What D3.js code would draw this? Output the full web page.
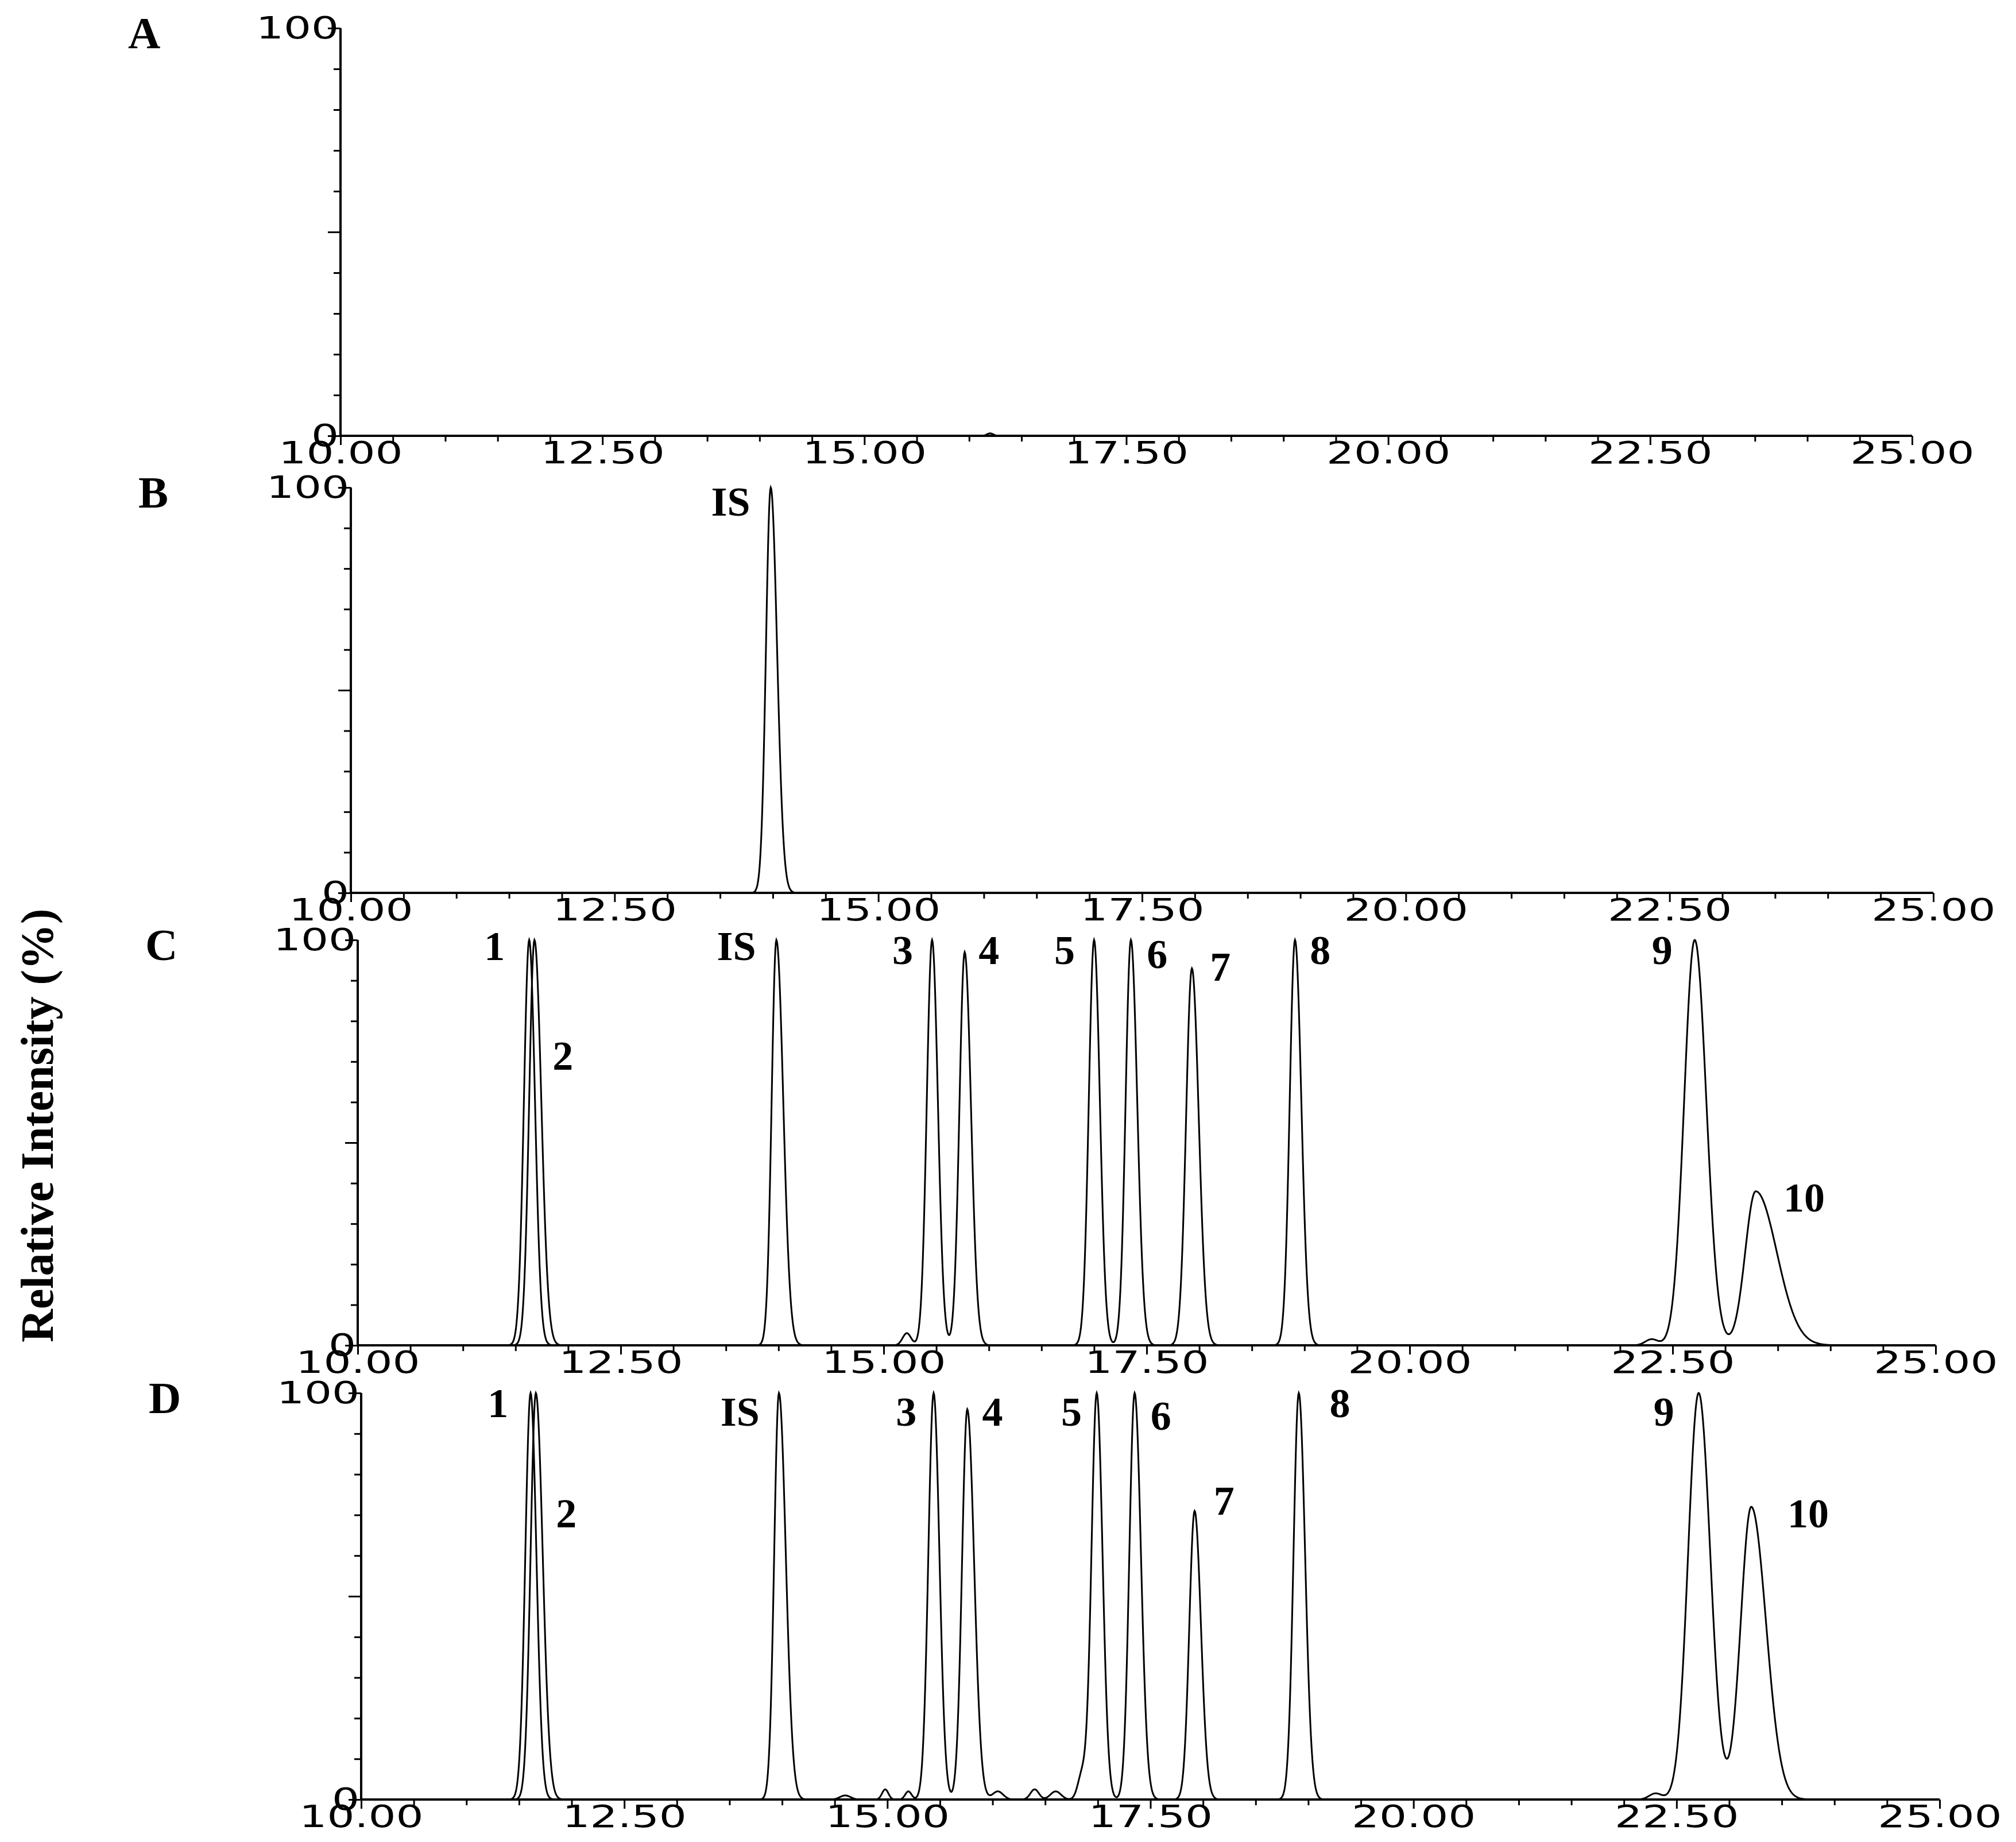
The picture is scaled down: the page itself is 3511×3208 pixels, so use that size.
<!DOCTYPE html>
<html><head><meta charset="utf-8">
<script src="https://cdn.jsdelivr.net/npm/d3@7"></script>
<style>body{margin:0;background:#fff}</style>
</head><body>
<div id="viz"></div>
<script>
var width = 3511, height = 3208;

var panelNames = ["A", "B", "C", "D"];
var xTickLabels = ["10.00", "12.50", "15.00", "17.50", "20.00", "22.50", "25.00"];

// peaks: [retention time, height %, left sigma, right sigma]
var peaksA = [[16.2, 0.6, 0.03, 0.03]];
var peaksB = [[13.98, 100, 0.045, 0.06]];
var peaksC = [[11.63, 100, 0.05, 0.055], [13.98, 100, 0.045, 0.065],
  [15.22, 3, 0.04, 0.04], [15.46, 100, 0.05, 0.055], [15.77, 97, 0.05, 0.06],
  [17.0, 100, 0.05, 0.055], [17.35, 100, 0.05, 0.06], [17.93, 93, 0.055, 0.065],
  [18.91, 100, 0.05, 0.06], [22.3, 1.5, 0.06, 0.06], [22.71, 100, 0.1, 0.11],
  [23.29, 38, 0.1, 0.2]];
var peaksD = [[11.61, 100, 0.05, 0.055], [13.97, 100, 0.045, 0.065],
  [14.6, 1, 0.05, 0.05], [14.98, 2.5, 0.03, 0.03], [15.2, 2, 0.03, 0.03], [15.44, 100, 0.05, 0.055],
  [15.76, 96, 0.05, 0.065], [16.05, 2, 0.05, 0.05], [16.4, 2.5, 0.04, 0.04], [16.6, 2, 0.05, 0.05],
  [16.85, 6, 0.04, 0.04], [16.99, 100, 0.05, 0.055], [17.35, 100, 0.05, 0.06],
  [17.92, 71, 0.05, 0.06], [18.91, 100, 0.05, 0.06], [22.3, 1.5, 0.06, 0.06],
  [22.71, 100, 0.1, 0.11], [23.21, 72, 0.1, 0.14]];
// second overlaid trace (compound 2)
var peaksC2 = [[11.68, 100, 0.05, 0.065]];
var peaksD2 = [[11.66, 100, 0.05, 0.065]];
var peaksAll = [[peaksA], [peaksB], [peaksC, peaksC2], [peaksD, peaksD2]];

// peak labels: [text, time, intensity]
var labelsB = [["IS", 13.6, 93]];
var labelsC = [["1", 11.3, 95], ["2", 11.95, 68], ["IS", 13.6, 95], ["3", 15.18, 94], ["4", 16.0, 94],
  ["5", 16.72, 94], ["6", 17.6, 93], ["7", 18.2, 90], ["8", 19.15, 94], ["9", 22.4, 94], ["10", 23.75, 33]];
var labelsD = [["1", 11.3, 94], ["2", 11.95, 67], ["IS", 13.6, 92], ["3", 15.18, 92], ["4", 16.0, 92],
  ["5", 16.75, 92], ["6", 17.6, 91], ["7", 18.2, 70], ["8", 19.3, 94], ["9", 22.38, 92], ["10", 23.75, 67]];
var labelsAll = [[], labelsB, labelsC, labelsD];

var panelBoxes = [[593, 3330, 49, 759], [611, 3367, 849, 1555], [623, 3371, 1637, 2343], [629, 3378, 2426, 3134]];

var svg = d3.select("#viz").append("svg").attr("width", width).attr("height", height);

svg.append("text").attr("transform", "translate(92,1960) rotate(-90)")
  .attr("text-anchor", "middle").style("font", "bold 80px 'Liberation Serif'")
  .text("Relative Intensity (%)");

function signal(peaks, t) {
  var s = 0;
  peaks.forEach(function(p) {
    var sg = t < p[0] ? p[2] : p[3];
    s += p[1] * Math.exp(-0.5 * Math.pow((t - p[0]) / sg, 2));
  });
  return Math.min(s, 100);
}

panelNames.forEach(function(name, i) {
  var b = panelBoxes[i];
  var x = d3.scaleLinear().domain([10, 25]).range([b[0], b[1]]);
  var y = d3.scaleLinear().domain([0, 100]).range([b[3], b[2]]);
  var g = svg.append("g");

  g.append("text").attr("x", b[0] - 370).attr("y", b[2] + 35)
    .style("font", "bold 78px 'Liberation Serif'").text(name);

  // x axis
  var xa = g.append("g").attr("transform", "translate(0," + b[3] + ")")
    .call(d3.axisBottom(x).tickValues(d3.range(10, 25.01, 0.5)).tickSize(12)
      .tickFormat(function(d) { var k = xTickLabels.indexOf(d.toFixed(2)); return k >= 0 ? xTickLabels[k] : ""; }));
  xa.select(".domain").attr("stroke-width", 4).attr("d", "M" + b[0] + ",0H" + b[1]);
  xa.selectAll(".tick line").attr("stroke-width", 3).attr("y2", function(d) { return (d % 2.5 === 0) ? 16 : 10; });
  xa.selectAll("text").attr("y", 10).style("font", "54px 'DejaVu Sans'").attr("fill", "#000")
    .attr("transform", "scale(1.4,1)");

  // y axis
  var ya = g.append("g").attr("transform", "translate(" + b[0] + ",0)")
    .call(d3.axisLeft(y).tickValues(d3.range(0, 101, 10)).tickSize(12)
      .tickFormat(function(d) { return d === 0 || d === 100 ? d : ""; }));
  ya.select(".domain").attr("stroke-width", 4).attr("d", "M0," + b[3] + "V" + b[2]);
  ya.selectAll(".tick line").attr("stroke-width", 3).attr("x2", function(d) { return d === 50 || d === 0 || d === 100 ? -22 : -12; });
  ya.selectAll("text").attr("x", -2).style("font", "54px 'DejaVu Sans'").attr("fill", "#000")
    .attr("transform", "scale(1.4,1)");

  var ts = d3.range(10, 25.0001, 0.005);
  peaksAll[i].forEach(function(pk) {
    var line = d3.line().x(function(t) { return x(t); }).y(function(t) { return y(signal(pk, t)); });
    g.append("path").datum(ts).attr("d", line).attr("fill", "none").attr("stroke", "#000").attr("stroke-width", 3);
  });

  g.selectAll(".lbl").data(labelsAll[i]).enter().append("text")
    .attr("x", function(d) { return x(d[1]); }).attr("y", function(d) { return y(d[2]); })
    .attr("text-anchor", "middle").style("font", "bold 72px 'Liberation Serif'").text(function(d) { return d[0]; });
});
</script>
</body></html>
